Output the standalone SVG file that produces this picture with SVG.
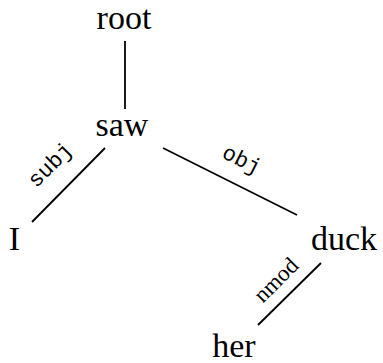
<svg xmlns="http://www.w3.org/2000/svg" width="383" height="363" viewBox="0 0 383 363">
  <style>
    .word { font-family: "Liberation Serif", "Times New Roman", serif; font-size: 34px; fill: #000; text-anchor: middle; }
    .rel { font-family: "Liberation Mono", "Courier New", monospace; font-size: 22px; fill: #000; text-anchor: middle; dominant-baseline: central; }
    .relserif { font-family: "Liberation Serif", "Times New Roman", serif; font-size: 23px; fill: #000; text-anchor: middle; dominant-baseline: central; }
    .edge { stroke: #000; stroke-width: 1.8; fill: none; stroke-linecap: butt; }
  </style>
  <rect width="383" height="363" fill="#fff"/>

  <!-- dependency arcs -->
  <g id="edges">
    <line class="edge" x1="125" y1="41" x2="125" y2="109"/>
    <line class="edge" x1="105" y1="148" x2="32" y2="222"/>
    <line class="edge" x1="163" y1="148" x2="297" y2="215"/>
    <line class="edge" x1="321" y1="263" x2="258" y2="325"/>
    <text class="rel" transform="translate(51,166) rotate(-45)">subj</text>
    <text class="rel" transform="translate(241,161) rotate(26.6)">obj</text>
    <text class="relserif" transform="translate(276,280) rotate(-45)">nmod</text>
  </g>

  <!-- tokens -->
  <g id="root"><text class="word" x="124" y="29">root</text></g>
  <g id="saw"><text class="word" x="122" y="136">saw</text></g>
  <g id="I"><text class="word" x="14.5" y="250">I</text></g>
  <g id="duck"><text class="word" x="344" y="250">duck</text></g>
  <g id="her"><text class="word" x="234" y="357">her</text></g>
</svg>
